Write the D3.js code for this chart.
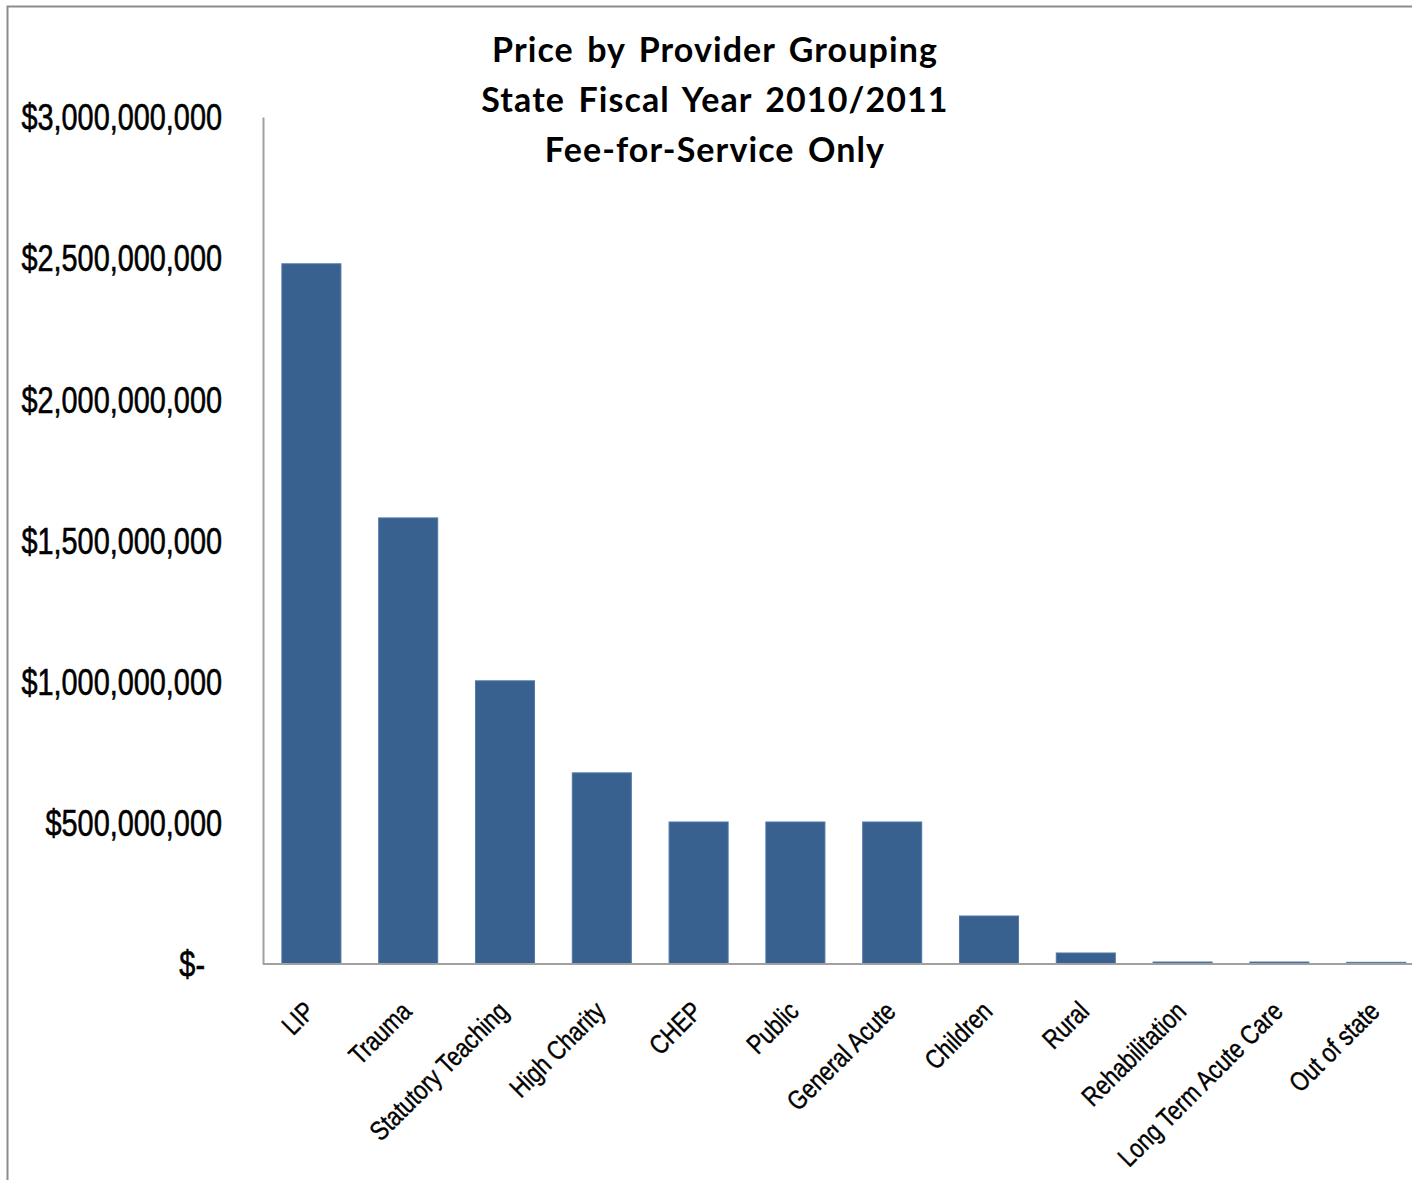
<!DOCTYPE html>
<html>
<head>
<meta charset="utf-8">
<script src="https://cdn.jsdelivr.net/npm/d3@7"></script>
<style>
  html, body { margin: 0; padding: 0; background: #fff; }
  svg { display: block; }
</style>
</head>
<body>
<svg id="chart" width="1412" height="1180"></svg>
<script>
// Provider groupings, in display order
const categories = [
  "LIP", "Trauma", "Statutory Teaching", "High Charity", "CHEP", "Public",
  "General Acute", "Children", "Rural", "Rehabilitation",
  "Long Term Acute Care", "Out of state"
];

// Total price per grouping, SFY 2010/2011 (dollars)
const prices = [
  2480000000, 1580000000, 1003000000, 677000000, 503000000, 503000000,
  503000000, 170000000, 39000000, 7000000, 7000000, 6000000
];

// Value axis ticks
const yTickValues = [0, 500000000, 1000000000, 1500000000, 2000000000, 2500000000, 3000000000];

// Title lines
const titleLines = [
  "Price by Provider Grouping",
  "State Fiscal Year 2010/2011",
  "Fee-for-Service Only"
];

const svg = d3.select("#chart");

// Outer chart frame (left and top edges)
svg.append("path")
  .attr("d", "M7.5,1180 V6.5 H1412")
  .attr("fill", "none")
  .attr("stroke", "#8c8c8c")
  .attr("stroke-width", 2);

const plot = { left: 263, top: 117, bottom: 964, right: 263 + 12 * 96.8 };

const x = d3.scaleBand()
  .domain(categories)
  .range([plot.left, plot.right])
  .paddingInner(0.39)
  .paddingOuter(0.195);

const y = d3.scaleLinear()
  .domain([0, 3000000000])
  .range([plot.bottom, plot.top]);

// Bars
svg.append("g")
  .selectAll("rect")
  .data(categories.map((c, i) => ({ c, v: prices[i] })))
  .join("rect")
  .attr("x", d => x(d.c))
  .attr("y", d => y(d.v))
  .attr("width", x.bandwidth())
  .attr("height", d => plot.bottom - y(d.v))
  .attr("fill", "#386190")
  .attr("stroke", "#4f78a8")
  .attr("stroke-width", 1);

// Y axis
const fmtMoney = d3.format(",");
const yAxis = d3.axisLeft(y)
  .tickValues(yTickValues)
  .tickSize(0)
  .tickPadding(0)
  .tickFormat(d => d === 0 ? "$-" : "$" + fmtMoney(d));

const gy = svg.append("g")
  .attr("transform", `translate(${plot.left},0)`)
  .call(yAxis);

gy.select(".domain")
  .attr("stroke", "#a0a0a0")
  .attr("stroke-width", 2);

gy.selectAll(".tick text")
  .attr("x", null)
  .attr("dy", null)
  .attr("font-family", "'Liberation Sans', Arial, sans-serif")
  .attr("font-size", 37)
  .attr("fill", "#000")
  .attr("stroke", "#000")
  .attr("stroke-width", 0.6)
  .attr("text-anchor", "end")
  .attr("dominant-baseline", "central")
  .attr("transform", d => `translate(${d === 0 ? -58 : -41},0) scale(0.78,1)`);

// X axis baseline
const xAxis = d3.axisBottom(x).tickSize(0).tickPadding(0);
const gx = svg.append("g")
  .attr("transform", `translate(0,${plot.bottom})`)
  .call(xAxis);

gx.select(".domain")
  .attr("d", `M${plot.left},0H${plot.right}`)
  .attr("stroke", "#a0a0a0")
  .attr("stroke-width", 2);

gx.selectAll(".tick text")
  .attr("y", null)
  .attr("dy", null)
  .attr("font-family", "'Liberation Sans', Arial, sans-serif")
  .attr("font-size", 27)
  .attr("fill", "#000")
  .attr("stroke", "#000")
  .attr("stroke-width", 0.4)
  .attr("text-anchor", "end")
  .attr("transform", "translate(5,49) rotate(-45) scale(0.82,1)");

// Title
svg.append("g")
  .selectAll("text")
  .data(titleLines)
  .join("text")
  .attr("x", 715)
  .attr("y", (d, i) => 62 + i * 50)
  .attr("text-anchor", "middle")
  .attr("font-family", "Lato, 'Open Sans', sans-serif")
  .attr("font-weight", "bold")
  .attr("font-size", 34)
  .attr("letter-spacing", 1.1)
  .attr("word-spacing", 4)
  .attr("fill", "#000")
  .text(d => d);
</script>
</body>
</html>
